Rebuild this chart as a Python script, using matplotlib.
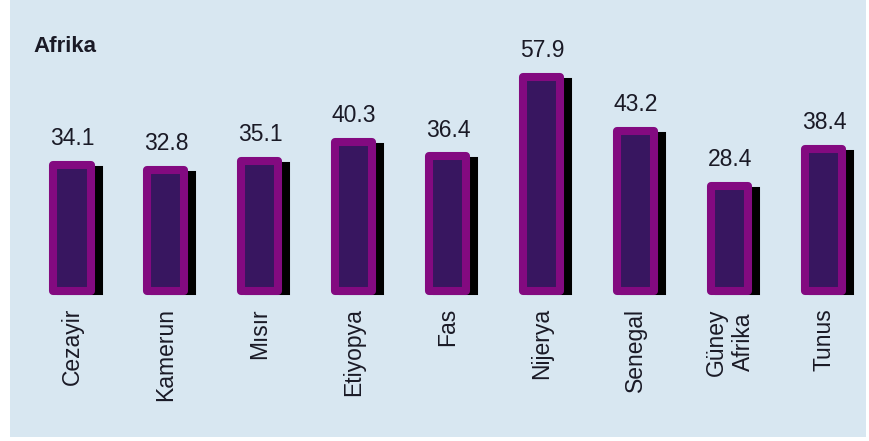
import matplotlib
matplotlib.use("Agg")
import matplotlib.pyplot as plt
from matplotlib.patches import Rectangle
import matplotlib.transforms as mtransforms

# Data
countries = ["Cezayir", "Kamerun", "Mısır", "Etiyopya", "Fas",
             "Nijerya", "Senegal", "Güney\nAfrika", "Tunus"]
values = [34.1, 32.8, 35.1, 40.3, 36.4, 57.9, 43.2, 28.4, 38.4]
title = "Afrika"

plt.rcParams['font.family'] = ['Liberation Sans', 'DejaVu Sans']

fig = plt.figure(figsize=(8.69, 4.41), dpi=100, facecolor="white")

# light blue panel behind everything
bg = Rectangle((10 / 869, 4 / 441), 856 / 869, 437 / 441,
               transform=fig.transFigure, facecolor="#d8e7f1",
               edgecolor="none", zorder=-10)
fig.patches.append(bg)

ax = fig.add_axes([0, 0, 1, 1])
ax.set_facecolor("none")
ax.set_xlim(-0.766, 8.48)
ax.set_ylim(-40.5, 78.6)
ax.axis("off")

x = list(range(len(values)))
bw = 0.394

# shadow
shadow = mtransforms.offset_copy(ax.transData, fig=fig, x=8, y=0, units="dots")
ax.bar(x, [v - 1.4 for v in values], width=bw, color="black",
       edgecolor="black", linewidth=5.8, transform=shadow, zorder=2)

# bars
bars = ax.bar(x, values, width=bw, color="#381660", edgecolor="#830a80",
              linewidth=5.8, zorder=3)
for b in bars:
    b.set_joinstyle("round")

for xi, v in zip(x, values):
    ax.annotate(f"{v:.1f}", (xi, v), xytext=(0, 10.5), textcoords="offset points",
                ha="center", va="bottom", fontsize=16.5, color="#1a1a26")

for xi, lab in zip(x, countries):
    ax.text(xi, -4.6, lab, rotation=90, ha="center", va="top",
            fontsize=16.5, color="#1a1a26", linespacing=1.25,
            multialignment="center")

fig.text(33 / 869, 1 - 47 / 441, title, fontsize=16, fontweight="bold",
         color="#1a1a26", va="center", ha="left")

fig.savefig("out.png", dpi=100, facecolor="white")
